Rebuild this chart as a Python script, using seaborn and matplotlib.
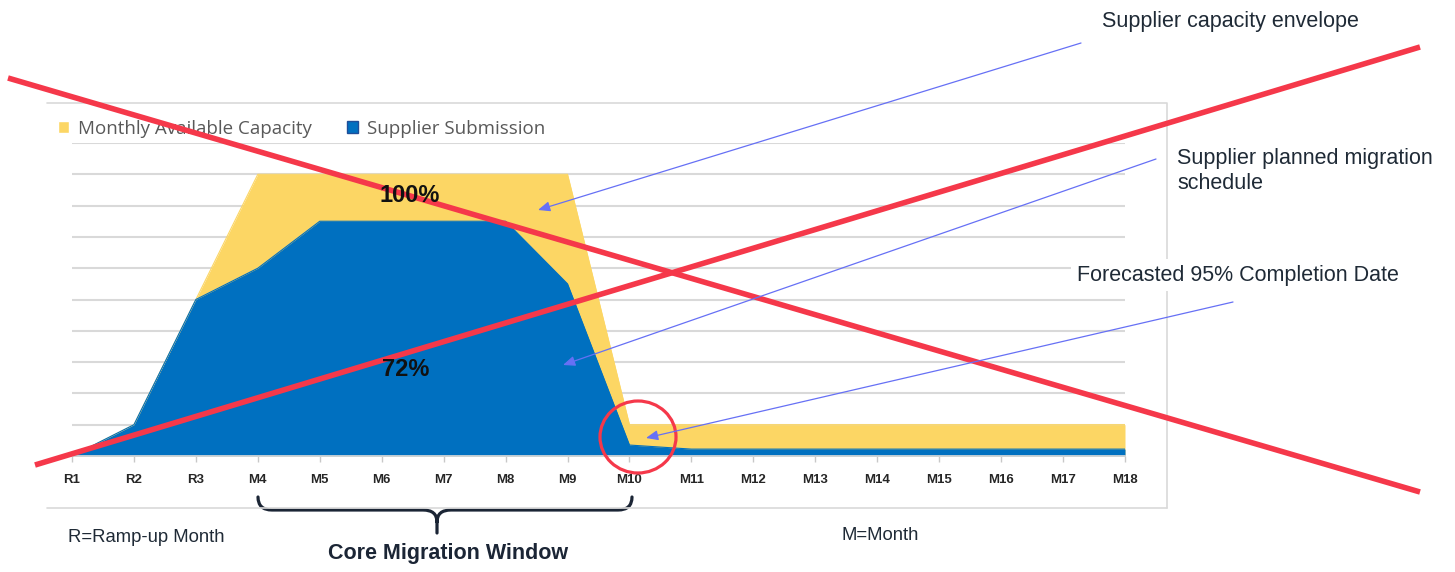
import numpy as np
import matplotlib
matplotlib.use("Agg")
import matplotlib.pyplot as plt
import seaborn as sns
from matplotlib.patches import Patch, Ellipse, PathPatch
from matplotlib.path import Path

# month slots: R = ramp-up month, M = month
months = ["R1", "R2", "R3", "M4", "M5", "M6", "M7", "M8", "M9",
          "M10", "M11", "M12", "M13", "M14", "M15", "M16", "M17", "M18"]
# values in gridline units (0-10)
capacity = [0, 1, 5, 9, 9, 9, 9, 9, 9, 1, 1, 1, 1, 1, 1, 1, 1, 1]
submission = [0, 1, 5, 6, 7.5, 7.5, 7.5, 7.5, 5.5,
              0.35, 0.22, 0.22, 0.22, 0.22, 0.22, 0.22, 0.22, 0.22]

YELLOW = "#FCD664"
BLUE = "#0070C0"
RED = "#F5384A"
ARROW = "#6670F5"
INK = "#1f2a36"
GRID = "#d9d9d9"

W, H = 1455, 572

sns.set_theme(style="white")
plt.rcParams["font.family"] = ["Liberation Sans", "DejaVu Sans"]

fig = plt.figure(figsize=(W / 100, H / 100), dpi=100)
ax = fig.add_axes([72 / W, (H - 456) / H, (1125 - 72) / W, (456 - 143) / H])

x = np.arange(len(months))
sns.lineplot(x=x, y=capacity, color=YELLOW, lw=0.8, ax=ax)
ax.fill_between(x, capacity, color=YELLOW, lw=0)
sns.lineplot(x=x, y=submission, color=BLUE, lw=0.8, ax=ax)
ax.fill_between(x, submission, color=BLUE, lw=0)

ax.set_xlim(0, len(months) - 1)
ax.set_ylim(0, 10)
ax.set_yticks(range(1, 11))
ax.yaxis.grid(True, color=GRID, lw=1.5)
ax.set_axisbelow(True)
ax.tick_params(axis="y", left=False, labelleft=False)
ax.set_xticks(x, months)
ax.tick_params(axis="x", bottom=True, length=4, width=1, color="#c8c8c8",
               pad=9, labelcolor="#262626")
for lab in ax.get_xticklabels():
    lab.set_fontweight("bold")
    lab.set_fontsize(9.5)
    lab.set_family(["Liberation Sans Narrow", "Liberation Sans"])
sns.despine(ax=ax, left=True)
ax.spines["bottom"].set_color(GRID)

handles = [Patch(facecolor=YELLOW, label="Monthly Available Capacity"),
           Patch(facecolor=BLUE, edgecolor="#1f4e99", label="Supplier Submission")]
fig.legend(handles=handles, loc="center left", bbox_to_anchor=(58 / W, 1 - 129 / H),
           ncol=2, frameon=False, handlelength=0.6, handleheight=0.6,
           handletextpad=0.45, columnspacing=1.9, borderaxespad=0, borderpad=0,
           prop={"family": "Open Sans", "size": 13.5}, labelcolor="#595959")

# overlay in pixel coordinates for the callouts
ov = fig.add_axes([0, 0, 1, 1])
ov.set_xlim(0, W)
ov.set_ylim(H, 0)
ov.axis("off")
ov.patch.set_alpha(0)
ov.set_zorder(10)

# light chart frame
ov.plot([47, 1167, 1167], [103, 103, 508], color=GRID, lw=1.2)
ov.plot([47, 1167], [508, 508], color=GRID, lw=1.2)

ov.text(410, 195, "100%", ha="center", va="center", fontsize=17,
        fontweight="bold", color="#111111")
ov.text(406, 370, "72%", ha="center", va="center", fontsize=17,
        fontweight="bold", color="#111111")

ov.text(1102, 22, "Supplier capacity envelope", ha="left", va="center",
        fontsize=15.5, color=INK)
ov.text(1177, 171, "Supplier planned migration\nschedule", ha="left",
        va="center", fontsize=15.5, color=INK, linespacing=1.2)
ov.text(1077, 275, "Forecasted 95% Completion Date", ha="left", va="center",
        fontsize=15.5, color=INK,
        bbox=dict(facecolor="white", edgecolor="none", pad=4))

arrow_kw = dict(arrowstyle="-|>,head_length=0.6,head_width=0.25",
                color=ARROW, lw=0.9, shrinkA=0, shrinkB=0, mutation_scale=12)
ov.annotate("", xy=(538, 210), xytext=(1081, 43), arrowprops=arrow_kw)
ov.annotate("", xy=(563, 365), xytext=(1156, 159), arrowprops=arrow_kw)
ov.annotate("", xy=(646, 438), xytext=(1233, 302), arrowprops=arrow_kw)

ov.add_patch(Ellipse((638, 437), 76, 72, fill=False, edgecolor=RED, lw=2.3))

# brace under the core migration window
verts = [(258, 497), (258, 510), (272, 510), (423, 510), (437, 510), (437, 522),
         (437, 533), (437, 522), (437, 510), (451, 510), (618, 510),
         (632, 510), (632, 497)]
codes = [Path.MOVETO, Path.CURVE3, Path.CURVE3, Path.LINETO, Path.CURVE3, Path.CURVE3,
         Path.LINETO, Path.MOVETO, Path.CURVE3, Path.CURVE3, Path.LINETO,
         Path.CURVE3, Path.CURVE3]
ov.add_patch(PathPatch(Path(verts, codes), fill=False, edgecolor="#1b2535",
                       lw=2.3, capstyle="round"))

ov.text(448, 553, "Core Migration Window", ha="center", va="center",
        fontsize=15.5, fontweight="bold", color="#1b2535")
ov.text(68, 537, "R=Ramp-up Month", ha="left", va="center", fontsize=13.3,
        color=INK)
ov.text(880, 536, "M=Month", ha="center", va="center", fontsize=13.3,
        color=INK)

# red cross over the chart
ov.plot([8, 1420], [78, 492], color=RED, lw=4, solid_capstyle="butt")
ov.plot([35, 1420], [465, 47], color=RED, lw=4, solid_capstyle="butt")

fig.savefig("out.png", dpi=100)
